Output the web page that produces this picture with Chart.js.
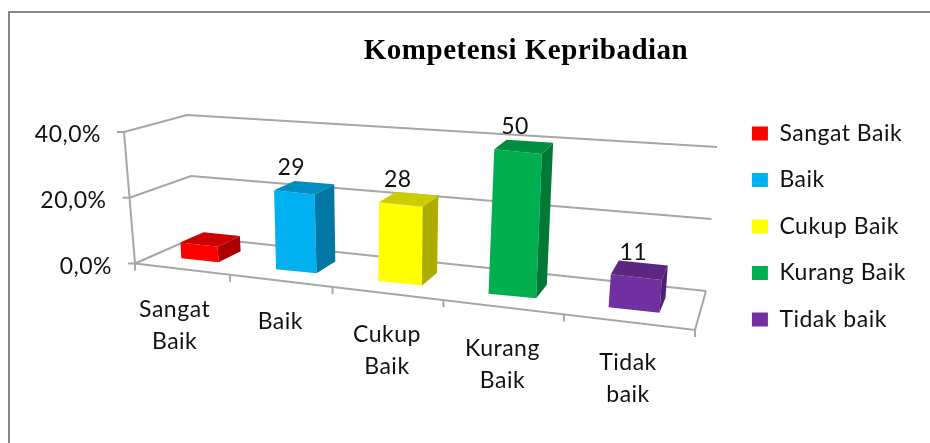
<!DOCTYPE html>
<html>
<head>
<meta charset="utf-8">
<style>
  html, body { margin: 0; background: #fff; }
  #box { width: 930px; height: 443px; overflow: hidden; }
</style>
<script src="https://cdn.jsdelivr.net/npm/chart.js@4"></script>
</head>
<body>
<div id="box"><canvas id="myChart" width="930" height="443"></canvas></div>
<script>
const categories = ["Sangat Baik", "Baik", "Cukup Baik", "Kurang Baik", "Tidak baik"];
const wrappedLabels = [["Sangat", "Baik"], ["Baik"], ["Cukup", "Baik"], ["Kurang", "Baik"], ["Tidak", "baik"]];
const percentValues = [4.8, 23.4, 22.6, 40.3, 8.9];
const countLabels = [null, 29, 28, 50, 11];
const barColors = ["#FF0000", "#00B0F0", "#FFFF00", "#00B050", "#7030A0"];
const yTicks = [0, 20, 40];

const FONT = "Lato, 'Open Sans', sans-serif";
const GRID = "#A6A6A6";
const DEPTH_FRONT = 0.3;
const DEPTH_BACK = 0.7;

// Corners of the floor as seen in the picture: front-left, front-right, back-right, back-left
const floorQuad = [[135, 263.5], [695, 330], [706, 291], [195, 237]];
// How far the top of the y axis sits from each of those corners
const riseAt = [[-11, -131.5], [13, -152], [11, -144], [-8, -122]];

function quadMap(q) {
  const [x0, y0] = q[0], [x1, y1] = q[1], [x2, y2] = q[2], [x3, y3] = q[3];
  const dx1 = x1 - x2, dx2 = x3 - x2, sx = x0 - x1 + x2 - x3;
  const dy1 = y1 - y2, dy2 = y3 - y2, sy = y0 - y1 + y2 - y3;
  const det = dx1 * dy2 - dx2 * dy1;
  const g = (sx * dy2 - dx2 * sy) / det;
  const h = (dx1 * sy - sx * dy1) / det;
  const a = x1 - x0 + g * x1, b = x3 - x0 + h * x3;
  const d = y1 - y0 + g * y1, e = y3 - y0 + h * y3;
  return (u, v) => {
    const w = g * u + h * v + 1;
    return [(a * u + b * v + x0) / w, (d * u + e * v + y0) / w];
  };
}
const floorMap = quadMap(floorQuad);

// t: across the floor, d: into the depth, h: share of the y axis
function project(t, d, h) {
  const p = floorMap(t, d);
  const rise = [0, 1].map((k) =>
    (1 - d) * ((1 - t) * riseAt[0][k] + t * riseAt[1][k]) + d * ((1 - t) * riseAt[3][k] + t * riseAt[2][k])
  );
  return [p[0] + rise[0] * h, p[1] + rise[1] * h];
}

function toT(chart, px) {
  const a = chart.chartArea;
  return (px - a.left) / (a.right - a.left);
}
function toH(chart, px) {
  const a = chart.chartArea;
  return (a.bottom - px) / (a.bottom - a.top);
}

function shade(hex, f) {
  const n = parseInt(hex.slice(1), 16);
  const r = Math.round((n >> 16) * f), g = Math.round(((n >> 8) & 255) * f), b = Math.round((n & 255) * f);
  return "rgb(" + r + "," + g + "," + b + ")";
}

function poly(ctx, pts, fill) {
  ctx.beginPath();
  pts.forEach((p, i) => (i ? ctx.lineTo(p[0], p[1]) : ctx.moveTo(p[0], p[1])));
  ctx.closePath();
  ctx.fillStyle = fill;
  ctx.fill();
}

function line(ctx, pts) {
  ctx.beginPath();
  pts.forEach((p, i) => (i ? ctx.lineTo(p[0], p[1]) : ctx.moveTo(p[0], p[1])));
  ctx.stroke();
}

function barBox(chart, el) {
  const half = el.width / 2;
  return { t0: toT(chart, el.x - half), t1: toT(chart, el.x + half), h: toH(chart, el.y), h0: toH(chart, el.base) };
}

// best parallelogram for the front face, canvas can only do affine
function frontFace(chart, el) {
  const b = barBox(chart, el);
  const lb = project(b.t0, DEPTH_FRONT, b.h0), rb = project(b.t1, DEPTH_FRONT, b.h0);
  const lt = project(b.t0, DEPTH_FRONT, b.h), rt = project(b.t1, DEPTH_FRONT, b.h);
  const across = [0, 1].map((k) => (rb[k] - lb[k] + rt[k] - lt[k]) / 2);
  const down = [0, 1].map((k) => (lb[k] - lt[k] + rb[k] - rt[k]) / 2);
  const mid = [0, 1].map((k) => (lb[k] + rb[k] + lt[k] + rt[k]) / 4);
  const corner = (sa, sd) => [0, 1].map((k) => mid[k] + (sa * across[k] + sd * down[k]) / 2);
  return { b, across, down, lb: corner(-1, 1), rb: corner(1, 1), lt: corner(-1, -1), rt: corner(1, -1) };
}

const box3d = {
  id: "box3d",
  beforeUpdate(chart) {
    chart.ctx.letterSpacing = "0.5px";
  },
  beforeDatasetsDraw(chart) {
    const ctx = chart.ctx;
    ctx.save();
    // outer frame, only top and left are in the picture
    ctx.strokeStyle = "#868686";
    ctx.lineWidth = 2;
    line(ctx, [[9, 443], [9, 12], [930, 12]]);
    // walls, floor, ticks
    ctx.strokeStyle = GRID;
    ctx.lineWidth = 2;
    const yScale = chart.scales.y;
    yScale.ticks.forEach((tk, i) => {
      const h = toH(chart, yScale.getPixelForTick(i));
      line(ctx, [project(0, 0, h), project(0, 1, h), project(1, 1, h)]);
      const p = project(0, 0, h);
      line(ctx, [[p[0] - 7, p[1]], p]);
    });
    line(ctx, [project(0, 0, 0), project(0, 0, 1)]);
    line(ctx, [project(0, 0, 0), project(1, 0, 0), project(1, 1, 0)]);
    for (let i = 0; i <= categories.length; i++) {
      const p = project(i / categories.length, 0, 0);
      line(ctx, [p, [p[0], p[1] + 7]]);
    }
    // axis texts
    ctx.fillStyle = "#111";
    ctx.font = "23px " + FONT;
    ctx.textBaseline = "middle";
    ctx.textAlign = "right";
    yScale.ticks.forEach((tk, i) => {
      const p = project(0, 0, toH(chart, yScale.getPixelForTick(i)));
      ctx.fillText(tk.label, p[0] - 23, p[1] + 3);
    });
    ctx.textAlign = "center";
    wrappedLabels.forEach((lines, i) => {
      const mid = toT(chart, chart.scales.x.getPixelForValue(i));
      const p = project(mid, 0, 0);
      lines.forEach((txt, k) => ctx.fillText(txt, p[0] - (i === 0 ? 7 : 0), p[1] + 41 + k * 32));
    });
    ctx.restore();
  },
  beforeDatasetDraw(chart, args) {
    // front face of the bar goes through the library, under a local affine transform
    const ctx = chart.ctx;
    const i = args.index;
    const el = chart.getDatasetMeta(i).data[i];
    const f = frontFace(chart, el);
    const w = el.width, hh = el.base - el.y;
    const a = f.across[0] / w, bb = f.across[1] / w;
    const c = f.down[0] / hh, d = f.down[1] / hh;
    const x0 = el.x - w / 2, y0 = el.base;
    ctx.save();
    ctx.transform(a, bb, c, d, f.lb[0] - a * x0 - c * y0, f.lb[1] - bb * x0 - d * y0);
  },
  afterDatasetDraw(chart, args) {
    const ctx = chart.ctx;
    ctx.restore();
    const i = args.index;
    const f = frontFace(chart, chart.getDatasetMeta(i).data[i]);
    const b = f.b;
    const col = barColors[i];
    poly(ctx, [f.rb, project(b.t1, DEPTH_BACK, b.h0), project(b.t1, DEPTH_BACK, b.h), f.rt], shade(col, 0.68));
    poly(ctx, [f.lt, f.rt, project(b.t1, DEPTH_BACK, b.h), project(b.t0, DEPTH_BACK, b.h)], shade(col, 0.8));
  },
  afterDatasetsDraw(chart) {
    const ctx = chart.ctx;
    ctx.save();
    ctx.fillStyle = "#111";
    ctx.font = "23px " + FONT;
    ctx.textAlign = "center";
    ctx.textBaseline = "middle";
    countLabels.forEach((v, i) => {
      if (v === null) return;
      const f = frontFace(chart, chart.getDatasetMeta(i).data[i]);
      ctx.fillText(String(v), (f.lt[0] + f.rt[0]) / 2 - 3, (f.lt[1] + f.rt[1]) / 2 - 25);
    });
    ctx.restore();
  },
};

const datasets = categories.map((name, i) => ({
  label: name,
  data: categories.map((c, k) => (k === i ? percentValues[i] : null)),
  backgroundColor: barColors[i],
  barPercentage: 0.4,
  categoryPercentage: 1,
  grouped: false,
  clip: false,
}));

const myChart = new Chart(document.getElementById("myChart"), {
  type: "bar",
  data: { labels: categories, datasets: datasets },
  plugins: [box3d],
  options: {
    responsive: false,
    animation: false,
    layout: { padding: { left: 136, right: 14, top: 20, bottom: 10 } },
    plugins: {
      title: {
        display: true,
        text: "Kompetensi Kepribadian",
        color: "#000",
        font: { family: "'Liberation Serif', serif", size: 29, weight: "bold" },
        padding: { top: 14, bottom: 30 },
      },
      legend: {
        position: "right",
        labels: {
          boxWidth: 16,
          boxHeight: 14,
          padding: 23.5,
          color: "#111",
          font: { family: FONT, size: 23 },
        },
      },
      tooltip: { enabled: false },
    },
    scales: {
      x: { display: false },
      y: {
        display: false,
        min: 0,
        max: 40,
        afterBuildTicks(scale) {
          scale.ticks = yTicks.map((v) => ({ value: v }));
        },
        ticks: { callback: (v) => v.toFixed(1).replace(".", ",") + "%" },
      },
    },
  },
});
</script>
</body>
</html>
